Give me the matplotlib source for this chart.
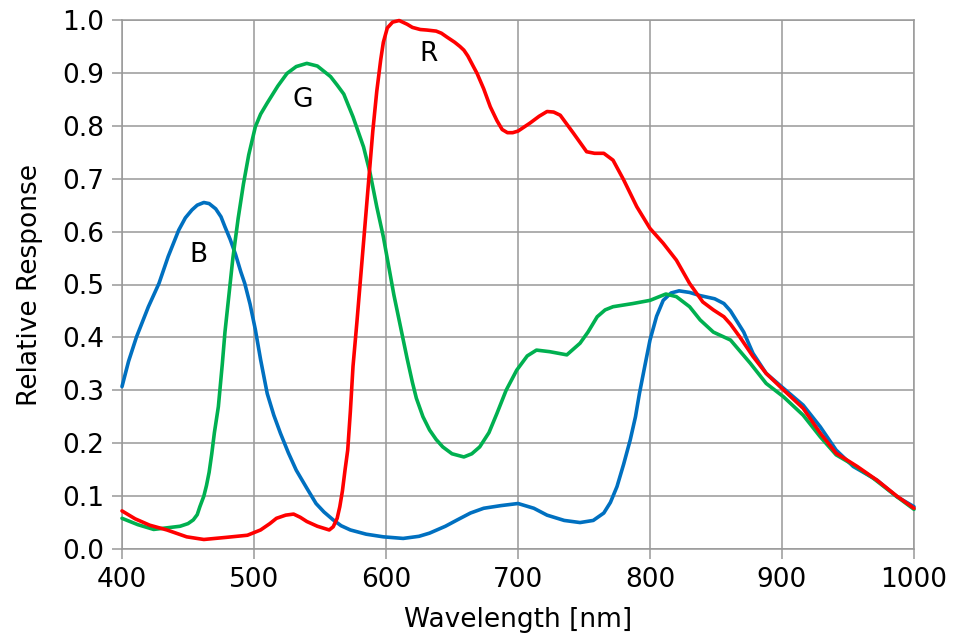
import matplotlib
matplotlib.use("Agg")
import matplotlib.pyplot as plt

# ---- data ----
b_wl = [400, 405, 411, 420, 428, 435, 443, 448, 453, 457, 462, 466, 471, 475, 478, 482, 486, 490, 493,
        497, 501, 505, 510, 515, 520, 526, 532, 540, 547, 553, 560, 566, 573, 585, 598, 613, 625, 633,
        645, 654, 664, 674, 687, 700, 712, 722, 735, 747, 757, 765, 770, 775, 780, 785, 789, 792, 796,
        800, 805, 810, 816, 822, 830, 838, 849, 856, 861, 866, 871, 878, 888, 901, 916, 929, 941, 954,
        972, 987, 1000]
b_val = [0.307, 0.355, 0.401, 0.458, 0.502, 0.553, 0.603, 0.626, 0.641, 0.650, 0.655, 0.653, 0.643,
         0.628, 0.609, 0.585, 0.557, 0.524, 0.502, 0.463, 0.415, 0.358, 0.294, 0.253, 0.219, 0.182,
         0.149, 0.115, 0.086, 0.070, 0.055, 0.044, 0.036, 0.028, 0.023, 0.020, 0.024, 0.030, 0.043,
         0.055, 0.068, 0.077, 0.082, 0.086, 0.077, 0.064, 0.054, 0.050, 0.054, 0.068, 0.088, 0.118,
         0.160, 0.206, 0.250, 0.294, 0.345, 0.395, 0.440, 0.470, 0.484, 0.488, 0.485, 0.479, 0.473,
         0.464, 0.450, 0.430, 0.410, 0.370, 0.332, 0.304, 0.272, 0.231, 0.187, 0.156, 0.130, 0.099,
         0.080]

g_wl = [400, 412, 424, 434, 444, 450, 454, 457, 459, 462, 464, 466, 468, 470, 473, 476, 478, 481, 484,
        488, 492, 496, 501, 505, 510, 518, 525, 532, 540, 548, 558, 563, 568, 575, 583, 588, 593, 598,
        602, 606, 611, 616, 620, 623, 628, 633, 638, 643, 650, 659, 665, 671, 678, 684, 691, 699, 707,
        714, 724, 737, 747, 753, 760, 766, 772, 787, 800, 812, 820, 830, 838, 848, 861, 876, 888, 901,
        916, 929, 941, 954, 969, 987, 1000]
g_val = [0.058, 0.046, 0.037, 0.040, 0.043, 0.048, 0.055, 0.065, 0.080, 0.100, 0.120, 0.145, 0.180,
         0.220, 0.269, 0.350, 0.410, 0.480, 0.550, 0.625, 0.690, 0.745, 0.798, 0.822, 0.843, 0.875,
         0.899, 0.912, 0.918, 0.913, 0.893, 0.877, 0.860, 0.817, 0.760, 0.710, 0.647, 0.590, 0.535,
         0.480, 0.420, 0.360, 0.315, 0.285, 0.250, 0.225, 0.207, 0.193, 0.180, 0.174, 0.180, 0.193,
         0.220, 0.256, 0.300, 0.338, 0.365, 0.376, 0.373, 0.367, 0.389, 0.410, 0.439, 0.452, 0.458,
         0.464, 0.470, 0.482, 0.477, 0.458, 0.433, 0.410, 0.395, 0.351, 0.313, 0.288, 0.253, 0.212,
         0.178, 0.159, 0.134, 0.099, 0.075]

r_wl = [400, 410, 421, 434, 449, 462, 479, 495, 505, 512, 517, 524, 530, 535, 540, 548, 557, 560, 563,
        565, 567, 569, 571, 573, 575, 578, 581, 584, 587, 590, 593, 596, 598, 601, 605, 610, 616,
        620, 626, 631, 638, 642, 646, 652, 656, 659, 662, 666, 669, 674, 679, 684, 688, 692, 696, 700,
        709, 716, 722, 727, 732, 737, 742, 752, 758, 765, 772, 780, 790, 800, 810, 820, 830, 840, 848,
        856, 861, 868, 878, 888, 901, 916, 929, 941, 957, 972, 987, 1000]
r_val = [0.072, 0.057, 0.045, 0.036, 0.023, 0.018, 0.022, 0.026, 0.036, 0.048, 0.058, 0.064, 0.066,
         0.060, 0.052, 0.043, 0.036, 0.042, 0.058, 0.080, 0.110, 0.150, 0.187, 0.260, 0.345, 0.430,
         0.520, 0.610, 0.700, 0.790, 0.865, 0.925, 0.958, 0.985, 0.996, 0.999, 0.992, 0.986,
         0.982, 0.981, 0.979, 0.975, 0.968, 0.958, 0.950, 0.943, 0.932, 0.913, 0.899, 0.870, 0.836,
         0.810, 0.793, 0.787, 0.787, 0.790, 0.805, 0.818, 0.827, 0.826, 0.820, 0.803, 0.786, 0.751,
         0.748, 0.748, 0.735, 0.698, 0.647, 0.606, 0.578, 0.546, 0.502, 0.467, 0.452, 0.439, 0.425,
         0.401, 0.364, 0.332, 0.301, 0.266, 0.219, 0.181, 0.156, 0.130, 0.100, 0.077]

x_ticks = [400, 500, 600, 700, 800, 900, 1000]
y_ticks = [0.0, 0.1, 0.2, 0.3, 0.4, 0.5, 0.6, 0.7, 0.8, 0.9, 1.0]
labels = ["B", "G", "R"]
label_pos = [(458, 0.555), (537, 0.849), (632, 0.936)]

# ---- figure ----
W, H = 959, 637
fig = plt.figure(figsize=(W / 100, H / 100), dpi=100)
ax = fig.add_axes([122 / W, (H - 549) / H, (914 - 122) / W, (549 - 20) / H])

grid_c = "#999999"
ax.set_xlim(400, 1000)
ax.set_ylim(0, 1.0)
ax.set_xticks(x_ticks)
ax.set_yticks(y_ticks)
ax.set_yticklabels([f"{v:.1f}" for v in y_ticks])
ax.grid(True, color=grid_c, linewidth=1.1)
ax.set_axisbelow(True)
for s in ax.spines.values():
    s.set_color(grid_c)
    s.set_linewidth(1.1)
ax.tick_params(axis="both", colors=grid_c, length=7, width=1.1, labelcolor="black",
               labelsize=19, pad=6)

lw = 2.6
for wl, val, col, z in [(b_wl, b_val, "#0070C0", 3), (g_wl, g_val, "#00B050", 3),
                        (r_wl, r_val, "#FF0000", 4)]:
    ax.plot(wl, val, color=col, lw=lw, solid_joinstyle="round", solid_capstyle="round",
            clip_on=False, zorder=z)

for t, (x, y) in zip(labels, label_pos):
    ax.text(x, y, t, fontsize=19, ha="center", va="center", color="black", zorder=5)

ax.set_xlabel("Wavelength [nm]", fontsize=19, labelpad=10)
ax.set_ylabel("Relative Response", fontsize=19, labelpad=14)

fig.savefig("out.png", dpi=100)
